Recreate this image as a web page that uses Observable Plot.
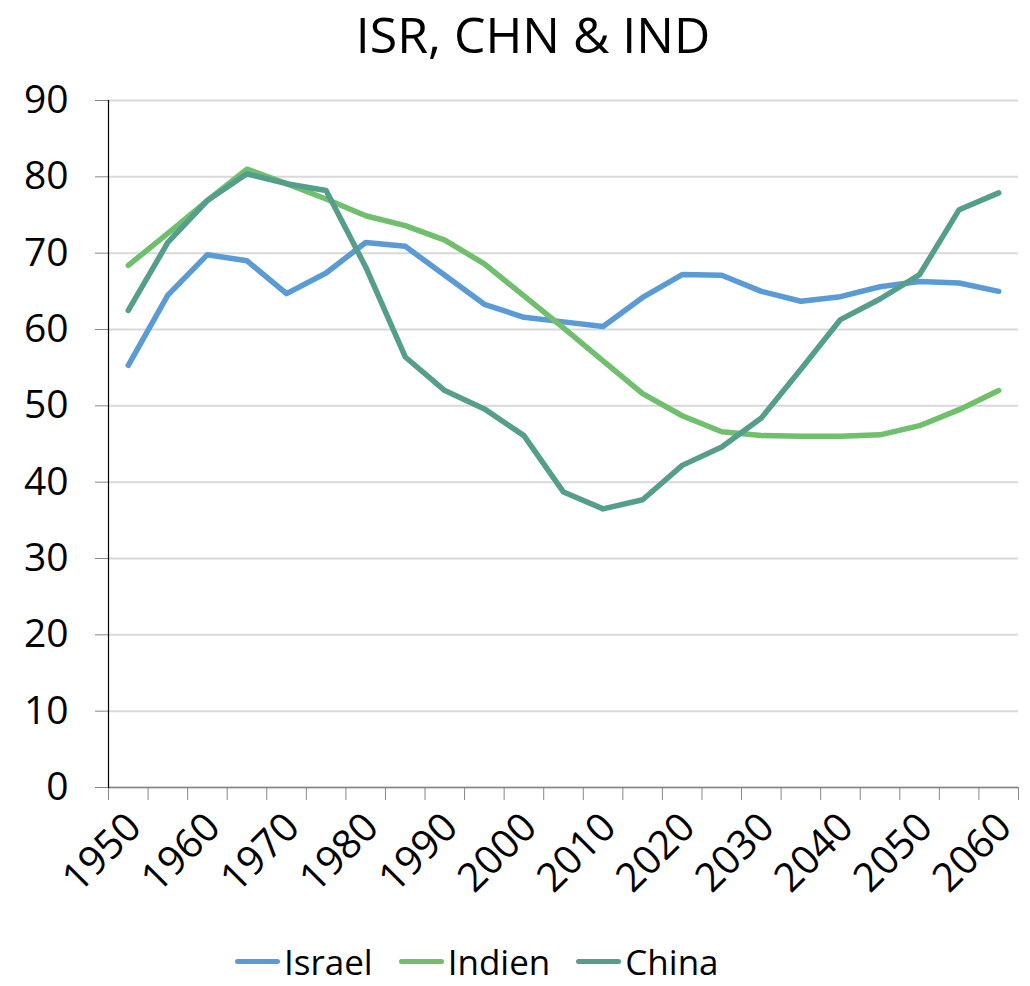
<!DOCTYPE html>
<html>
<head>
<meta charset="utf-8">
<script src="https://cdn.jsdelivr.net/npm/d3@7"></script>
<script src="https://cdn.jsdelivr.net/npm/@observablehq/plot@0.6"></script>
<style>
  html, body { margin: 0; padding: 0; background: #fff; }
  body { width: 1030px; height: 986px; position: relative; overflow: hidden;
         font-family: "Century Gothic", "Open Sans", sans-serif; color: #000; }
  #title { position: absolute; left: 0; top: 0; width: 1030px; text-align: center; padding-left: 36px;
           font-size: 50px; line-height: normal; box-sizing: border-box; }
  #chart { position: absolute; left: 0; top: 70px; }
  #legend { position: absolute; left: 235px; top: 938px; display: flex; align-items: center;
            font-size: 35px; line-height: normal; }
  .item { display: flex; align-items: center; margin-right: 26px; }
  .sw { width: 45px; height: 5px; border-radius: 3px; margin-right: 4px; }
</style>
</head>
<body>
<div id="title">ISR, CHN &amp; IND</div>
<div id="chart"></div>
<div id="legend"></div>
<script>
const years = [1950,1955,1960,1965,1970,1975,1980,1985,1990,1995,2000,2005,2010,2015,2020,2025,2030,2035,2040,2045,2050,2055,2060];
const israel = [55.3,64.5,69.8,69.0,64.7,67.4,71.4,70.9,67.1,63.3,61.6,61.0,60.4,64.2,67.2,67.1,65.0,63.7,64.3,65.6,66.3,66.1,65.0];
const indien = [68.4,72.6,76.9,81.0,79.1,77.1,74.9,73.6,71.7,68.6,64.4,60.2,55.9,51.6,48.7,46.6,46.1,46.0,46.0,46.2,47.4,49.5,52.0];
const china  = [62.5,71.4,76.9,80.4,79.1,78.2,68.2,56.4,52.0,49.6,46.1,38.7,36.5,37.7,42.2,44.6,48.4,54.8,61.3,64.0,67.2,75.7,77.9];
const seriesNames = ["Israel", "Indien", "China"];
const seriesColors = ["#5B9BD5", "#70BF6D", "#559E8C"];
const yTicks = [0,10,20,30,40,50,60,70,80,90];
const xLabelTicks = [1950,1960,1970,1980,1990,2000,2010,2020,2030,2040,2050,2060];

const values = [israel, indien, china];
const data = [];
seriesNames.forEach((name, s) => {
  years.forEach((yr, i) => data.push({series: name, year: yr, value: values[s][i]}));
});
const step = years[1] - years[0];
const boundaries = years.map(y => y - step / 2).concat([years[years.length - 1] + step / 2]);
const xDomain = [boundaries[0], boundaries[boundaries.length - 1]];

const chart = Plot.plot({
  width: 1030,
  height: 860,
  marginTop: 30,
  marginBottom: 143,
  marginLeft: 108,
  marginRight: 12,
  style: {fontFamily: '"Century Gothic", "Open Sans", sans-serif', fontSize: "38px", color: "#000", background: "#fff"},
  x: {type: "linear", domain: xDomain},
  y: {domain: [0, 90]},
  color: {domain: seriesNames, range: seriesColors},
  marks: [
    Plot.gridY(yTicks, {stroke: "#d9d9d9", strokeOpacity: 1, strokeWidth: 2}),
    Plot.axisY(yTicks, {tickSize: 13, tickPadding: 27, stroke: "#868686", fontSize: 39, label: null}),
    Plot.axisX(boundaries, {tickSize: 13, tickFormat: () => "", stroke: "#868686", label: null}),
    Plot.axisX(xLabelTicks, {tickSize: 0, tickRotate: -45, tickPadding: 33, fontSize: 40, dx: 6, tickFormat: d => String(d), label: null}),
    Plot.ruleY([0], {stroke: "#868686", strokeWidth: 1.5}),
    Plot.frame({anchor: "left", stroke: "#000", strokeWidth: 1.2}),
    Plot.line(data, {x: "year", y: "value", z: "series", stroke: "series", strokeWidth: 5.5, strokeLinecap: "round", strokeLinejoin: "round"})
  ]
});
document.getElementById("chart").appendChild(chart);

const legend = document.getElementById("legend");
seriesNames.forEach((name, i) => {
  const item = document.createElement("div");
  item.className = "item";
  const sw = document.createElement("div");
  sw.className = "sw";
  sw.style.background = seriesColors[i];
  const label = document.createElement("span");
  label.textContent = name;
  item.appendChild(sw);
  item.appendChild(label);
  legend.appendChild(item);
});
</script>
</body>
</html>
